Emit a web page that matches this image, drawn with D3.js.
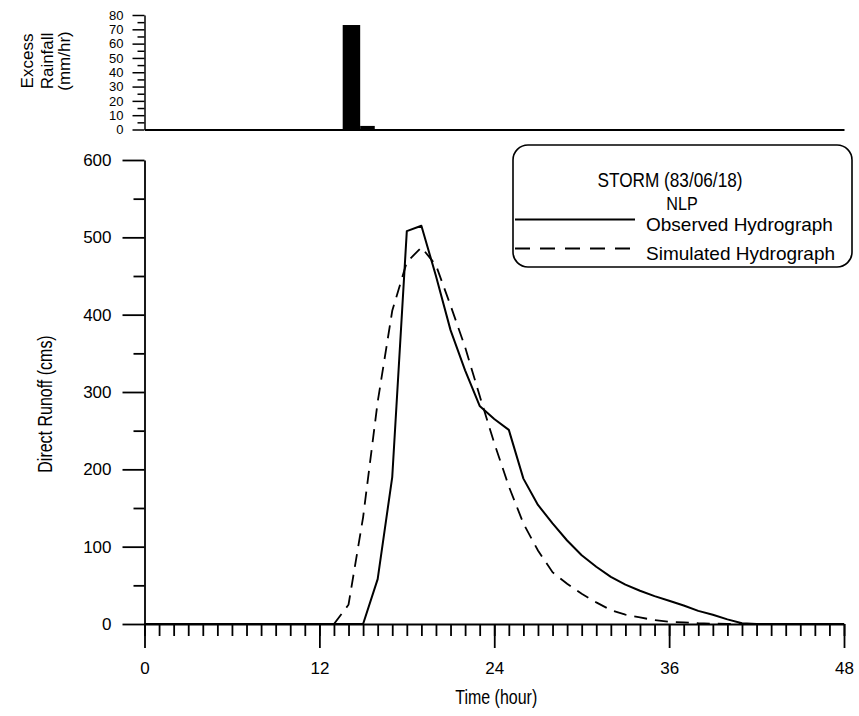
<!DOCTYPE html>
<html>
<head>
<meta charset="utf-8">
<script src="https://cdn.jsdelivr.net/npm/d3@7"></script>
<style>
  html, body { margin: 0; padding: 0; background: #fff; }
  svg { display: block; }
  text { font-family: "Liberation Sans", Arial, Helvetica, sans-serif; }
</style>
</head>
<body>
<svg id="chart" width="859" height="716"></svg>
<script>
// Storm of 83/06/18 — hourly direct runoff (cms), hours 0..48
const hours = d3.range(0, 49);

const observed = [
  0, 0, 0, 0, 0, 0, 0, 0, 0, 0, 0, 0, 0, 0, 0,      // 0-14
  0, 58, 190, 508, 515, 450, 380, 328, 282, 265,    // 15-24
  251, 188, 154, 130, 108, 89, 74, 61, 51, 43,      // 25-34
  36, 30, 24, 17, 12, 6, 1, 0, 0, 0, 0, 0, 0, 0     // 35-48
];

const simulated = [
  0, 0, 0, 0, 0, 0, 0, 0, 0, 0, 0, 0, 0, 0,         // 0-13
  25, 138, 287, 405, 468, 487, 464, 412, 358, 295,  // 14-23
  234, 178, 130, 95, 67, 52, 39, 28, 18, 12,        // 24-33
  8.5, 5, 3, 2, 1, 0.5, 0, 0, 0, 0, 0, 0, 0, 0, 0   // 34-48
];

// Excess rainfall blocks (mm/hr) with their start/end times (hour)
const rainStart = [13.6, 14.8];
const rainEnd   = [14.8, 15.8];
const rainRate  = [73, 2.5];

// Axis ticks and labels
const xMajorTicks = [0, 12, 24, 36, 48];
const xMinorTicks = d3.range(0, 49);
const yMajorTicks = [0, 100, 200, 300, 400, 500, 600];
const yMinorTicks = [50, 150, 250, 350, 450, 550];
const rainMajorTicks = [0, 10, 20, 30, 40, 50, 60, 70, 80];
const rainMinorTicks = [5, 15, 25, 35, 45, 55, 65, 75];

const legendTitle = ["STORM (83/06/18)", "NLP"];
const seriesNames = ["Observed Hydrograph", "Simulated Hydrograph"];

const svg = d3.select("#chart");

// Scales
const x = d3.scaleLinear().domain([0, 48]).range([144.5, 844]);
const y = d3.scaleLinear().domain([0, 600]).range([624, 160]);
const yr = d3.scaleLinear().domain([0, 80]).range([129.5, 15]);

function styleAxis(g, w) {
  g.attr("font-family", null).attr("font-size", null);
  g.selectAll("path.domain").attr("stroke", "#000").attr("stroke-width", w);
  g.selectAll(".tick line").attr("stroke", "#000").attr("stroke-width", w);
  g.selectAll(".tick text").attr("fill", "#000");
}

// ---------- Rainfall panel ----------
const rainPanel = svg.append("g");

rainPanel.selectAll("rect.rain")
  .data(rainRate)
  .join("rect")
  .attr("class", "rain")
  .attr("x", (d, i) => x(rainStart[i]))
  .attr("width", (d, i) => x(rainEnd[i]) - x(rainStart[i]))
  .attr("y", d => yr(d))
  .attr("height", d => yr(0) - yr(d))
  .attr("fill", "#000");

const rMinor = rainPanel.append("g")
  .attr("transform", `translate(${x(0)},0)`)
  .call(d3.axisLeft(yr).tickValues(rainMinorTicks).tickSize(7).tickSizeOuter(0).tickFormat(""));
rMinor.select("path.domain").remove();
styleAxis(rMinor, 1.5);

const rMajor = rainPanel.append("g")
  .attr("transform", `translate(${x(0)},0)`)
  .call(d3.axisLeft(yr).tickValues(rainMajorTicks).tickSize(12).tickSizeOuter(0).tickPadding(9));
styleAxis(rMajor, 1.5);
rMajor.selectAll(".tick text").style("font-size", "13px");

const rX = rainPanel.append("g")
  .attr("transform", `translate(0,${yr(0)})`)
  .call(d3.axisBottom(x).tickValues([]).tickSizeOuter(0));
styleAxis(rX, 1.8);

const rainTitle = rainPanel.append("g").style("font-size", "17px");
["Excess", "Rainfall", "(mm/hr)"].forEach((t, i) => {
  rainTitle.append("text")
    .attr("transform", `translate(${[33, 53, 70][i]},61) rotate(-90)`)
    .attr("text-anchor", "middle")
    .attr("fill", "#000")
    .text(t);
});

// ---------- Runoff panel ----------
const runoffPanel = svg.append("g");

const xMinor = runoffPanel.append("g")
  .attr("transform", `translate(0,${y(0)})`)
  .call(d3.axisBottom(x).tickValues(xMinorTicks).tickSize(12).tickSizeOuter(0).tickFormat(""));
styleAxis(xMinor, 1.8);

const xMajor = runoffPanel.append("g")
  .attr("transform", `translate(0,${y(0)})`)
  .call(d3.axisBottom(x).tickValues(xMajorTicks).tickSize(24).tickSizeOuter(0).tickPadding(14));
xMajor.select("path.domain").remove();
styleAxis(xMajor, 1.8);
xMajor.selectAll(".tick text").style("font-size", "17px");

const yMinor = runoffPanel.append("g")
  .attr("transform", `translate(${x(0)},0)`)
  .call(d3.axisLeft(y).tickValues(yMinorTicks).tickSize(11).tickSizeOuter(0).tickFormat(""));
yMinor.select("path.domain").remove();
styleAxis(yMinor, 1.8);

const yMajor = runoffPanel.append("g")
  .attr("transform", `translate(${x(0)},0)`)
  .call(d3.axisLeft(y).tickValues(yMajorTicks).tickSize(22).tickSizeOuter(0).tickPadding(11));
styleAxis(yMajor, 1.8);
yMajor.selectAll(".tick text").style("font-size", "17px");

// Axis titles (tall, condensed lettering)
runoffPanel.append("text")
  .attr("transform", "translate(52,404) rotate(-90) scale(0.82,1)")
  .attr("text-anchor", "middle")
  .style("font-size", "19.5px")
  .attr("fill", "#000")
  .text("Direct Runoff (cms)");

runoffPanel.append("text")
  .attr("transform", `translate(${(x(0) + x(48)) / 2 + 2},704) scale(0.82,1)`)
  .attr("text-anchor", "middle")
  .style("font-size", "19.5px")
  .attr("fill", "#000")
  .text("Time (hour)");

// Hydrographs
const line = d3.line()
  .x((d, i) => x(hours[i]))
  .y(d => y(d))
  .curve(d3.curveLinear);

runoffPanel.append("path")
  .datum(simulated)
  .attr("d", line)
  .attr("fill", "none")
  .attr("stroke", "#000")
  .attr("stroke-width", 1.8)
  .attr("stroke-dasharray", "13,8");

runoffPanel.append("path")
  .datum(observed)
  .attr("d", line)
  .attr("fill", "none")
  .attr("stroke", "#000")
  .attr("stroke-width", 2)
  .attr("stroke-linejoin", "round");

// ---------- Legend ----------
const lg = svg.append("g");
lg.append("rect")
  .attr("x", 513).attr("y", 145)
  .attr("width", 339).attr("height", 122)
  .attr("rx", 15).attr("ry", 15)
  .attr("fill", "#fff")
  .attr("stroke", "#000")
  .attr("stroke-width", 1.6);

lg.append("text")
  .attr("transform", "translate(670,187) scale(0.82,1)")
  .attr("text-anchor", "middle")
  .style("font-size", "21px")
  .attr("fill", "#000")
  .text(legendTitle[0]);

lg.append("text")
  .attr("transform", "translate(682,210) scale(0.85,1)")
  .attr("text-anchor", "middle")
  .style("font-size", "19px")
  .attr("fill", "#000")
  .text(legendTitle[1]);

const dashes = [null, "15,10"];
const rowY = [219.5, 248.5];
seriesNames.forEach((name, i) => {
  lg.append("line")
    .attr("x1", 515).attr("x2", 635)
    .attr("y1", rowY[i]).attr("y2", rowY[i])
    .attr("stroke", "#000")
    .attr("stroke-width", i === 0 ? 2 : 1.8)
    .attr("stroke-dasharray", dashes[i]);
  lg.append("text")
    .attr("x", 646).attr("y", rowY[i] + 11.5)
    .style("font-size", "19px")
    .attr("fill", "#000")
    .text(name);
});
</script>
</body>
</html>
